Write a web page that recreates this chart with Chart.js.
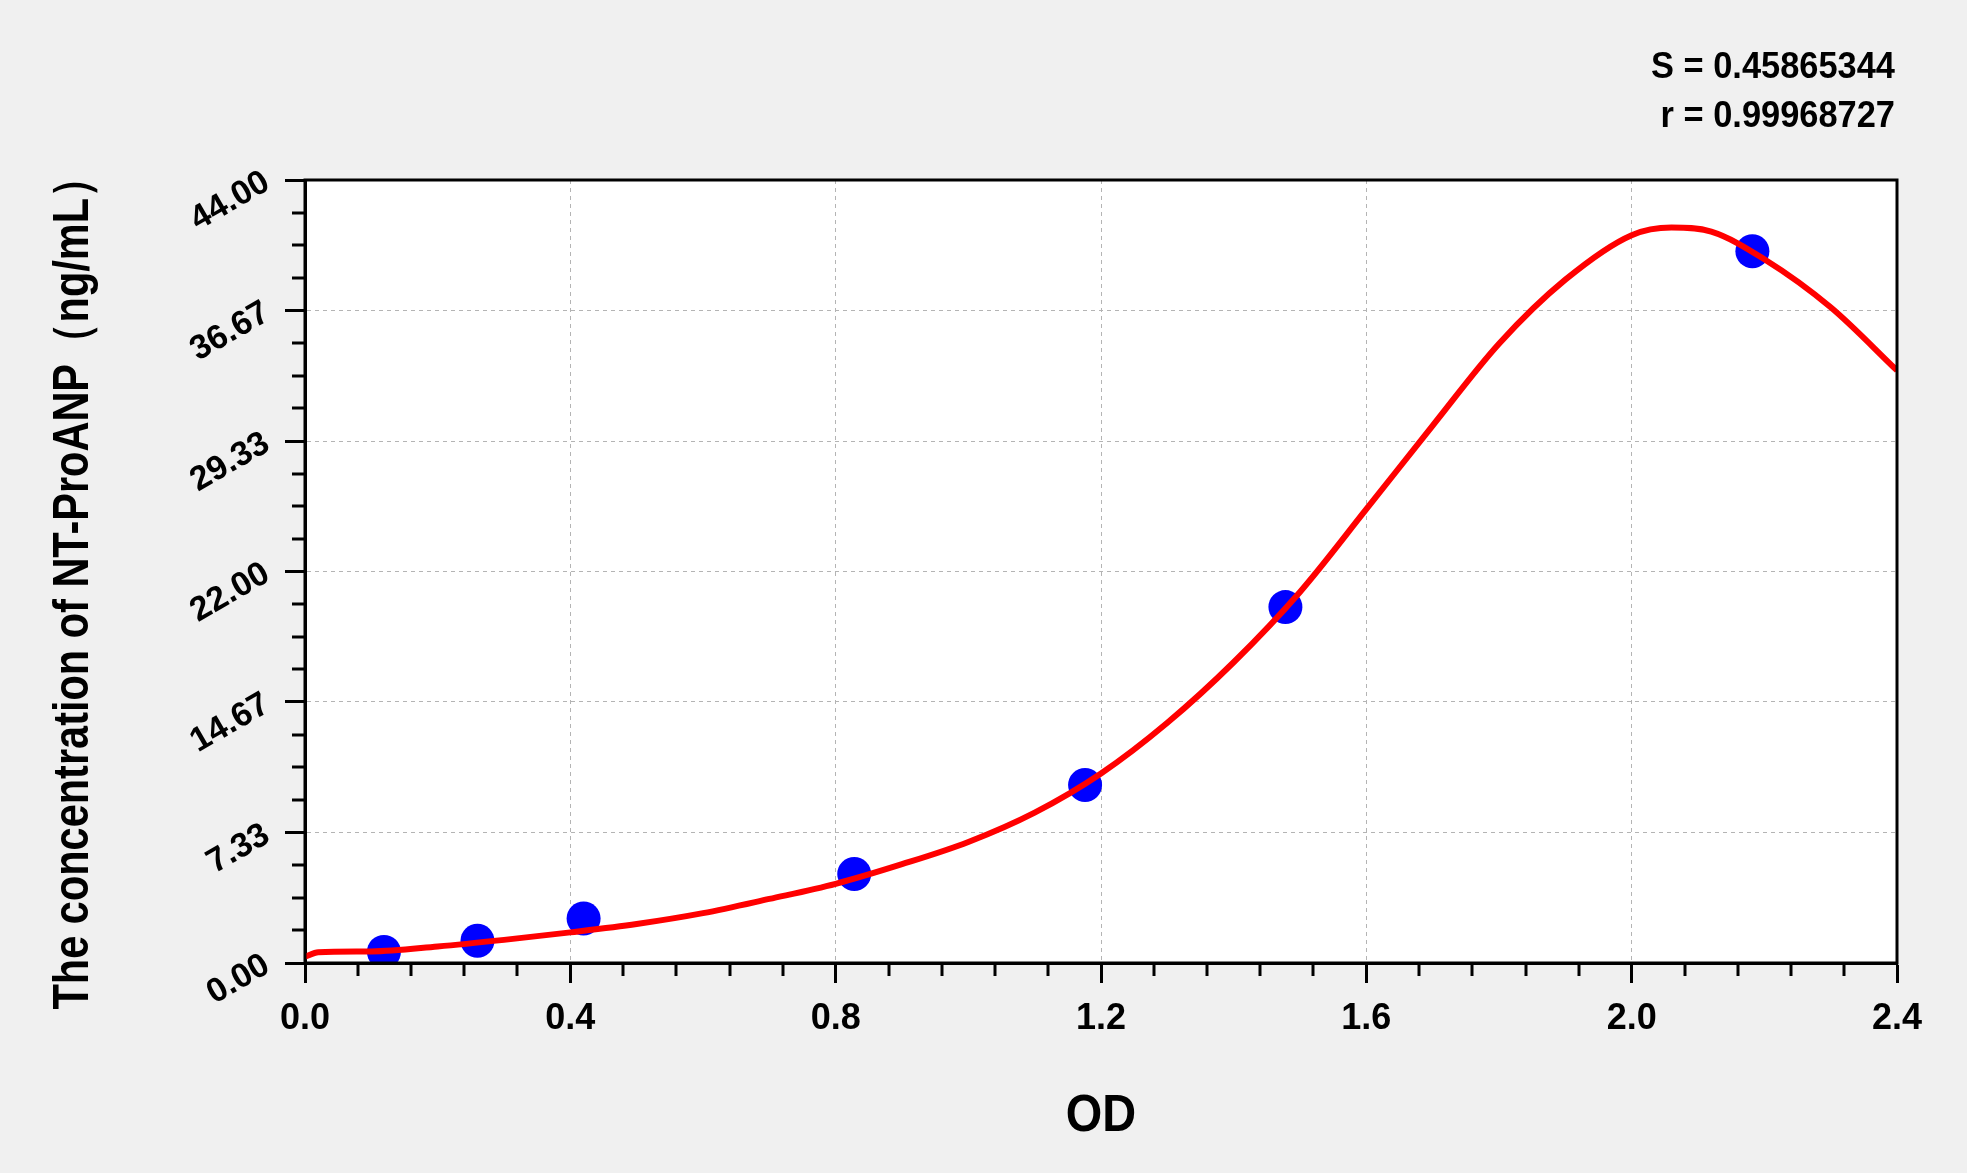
<!DOCTYPE html>
<html lang="en">
<head>
<meta charset="UTF-8" />
<title>NT-ProANP standard curve</title>
<script src="https://cdn.jsdelivr.net/npm/chart.js"></script>
<style>
  html, body { margin: 0; padding: 0; background: #f0f0f0; }
  canvas { display: block; }
</style>
</head>
<body>
<canvas id="curve" width="1967" height="1173"></canvas>
<script>
// standards: OD vs concentration
const stdOD = [0.119, 0.260, 0.420, 0.828, 1.176, 1.478, 2.182];
const stdConc = [0.625, 1.25, 2.5, 5, 10, 20, 40];

// fitted curve
const fitOD = [0, 0.02, 0.1, 0.2, 0.3, 0.4, 0.5, 0.6, 0.7, 0.8, 0.9, 1.0, 1.1, 1.2, 1.3,
  1.4, 1.5, 1.6, 1.7, 1.8, 1.9, 2.0, 2.06, 2.12, 2.2, 2.3, 2.4];
const fitConc = [0.35, 0.6, 0.65, 0.93, 1.3, 1.72, 2.19, 2.8, 3.6, 4.45, 5.55, 6.8, 8.45, 10.65, 13.5,
  16.9, 20.85, 25.5, 30.2, 34.8, 38.4, 40.9, 41.33, 41.1, 39.55, 36.85, 33.3];

const xTicks = [0, 0.4, 0.8, 1.2, 1.6, 2.0, 2.4];
const xLabels = ['0.0', '0.4', '0.8', '1.2', '1.6', '2.0', '2.4'];
const yTicks = [0, 7.33, 14.67, 22.0, 29.33, 36.67, 44.0];
const yLabels = ['0.00', '7.33', '14.67', '22.00', '29.33', '36.67', '44.00'];

const statS = 'S = 0.45865344';
const statR = 'r = 0.99968727';
const xTitle = 'OD';
const yTitle = 'The concentration of NT-ProANP\uFF08ng/mL\uFF09';

const FONT = "'Liberation Sans', Arial, sans-serif";

function squeezeText(ctx, text, x, y, rot, sx, align) {
  ctx.save();
  ctx.translate(x, y);
  ctx.rotate(rot);
  ctx.scale(sx, 1);
  ctx.textAlign = align;
  ctx.textBaseline = 'alphabetic';
  ctx.fillText(text, 0, 0);
  ctx.restore();
}

const frame = {
  id: 'frame',
  beforeDraw(chart) {
    const { ctx, chartArea: a } = chart;
    ctx.save();
    ctx.fillStyle = '#f0f0f0';
    ctx.fillRect(0, 0, chart.width, chart.height);
    ctx.fillStyle = '#ffffff';
    ctx.fillRect(a.left, a.top, a.right - a.left, a.bottom - a.top);
    ctx.restore();
  },
  afterDraw(chart) {
    const { ctx, chartArea: a, scales: { x, y } } = chart;
    ctx.save();
    ctx.strokeStyle = '#000';
    ctx.lineWidth = 3;
    ctx.strokeRect(a.left, a.top, a.right - a.left, a.bottom - a.top);

    // minor ticks: 5 parts on x, 4 parts on y
    ctx.beginPath();
    for (let i = 0; i < xTicks.length - 1; i++) {
      const step = (xTicks[i + 1] - xTicks[i]) / 5;
      for (let k = 1; k < 5; k++) {
        const px = Math.round(x.getPixelForValue(xTicks[i] + k * step));
        ctx.moveTo(px, a.bottom);
        ctx.lineTo(px, a.bottom + 13);
      }
    }
    for (let i = 0; i < yTicks.length - 1; i++) {
      const step = (yTicks[i + 1] - yTicks[i]) / 4;
      for (let k = 1; k < 4; k++) {
        const py = Math.round(y.getPixelForValue(yTicks[i] + k * step));
        ctx.moveTo(a.left, py);
        ctx.lineTo(a.left - 13, py);
      }
    }
    ctx.stroke();

    // texts
    ctx.fillStyle = '#000';
    ctx.font = 'bold 37px ' + FONT;
    squeezeText(ctx, statS, 1895, 78, 0, 0.93, 'right');
    squeezeText(ctx, statR, 1895, 127, 0, 0.93, 'right');

    ctx.font = 'bold 51px ' + FONT;
    squeezeText(ctx, xTitle, (a.left + a.right) / 2, 1131, 0, 0.92, 'center');

    ctx.font = 'bold 50px ' + FONT;
    const w = ctx.measureText(yTitle).width;
    squeezeText(ctx, yTitle, 88, 583, -Math.PI / 2, 853 / w, 'center');
    ctx.restore();
  }
};

new Chart(document.getElementById('curve'), {
  type: 'scatter',
  data: {
    datasets: [
      {
        label: 'fit',
        data: fitOD.map((v, i) => ({ x: v, y: fitConc[i] })),
        showLine: true,
        borderColor: '#ff0000',
        borderWidth: 6,
        pointRadius: 0,
        cubicInterpolationMode: 'monotone',
        order: 0
      },
      {
        label: 'standards',
        data: stdOD.map((v, i) => ({ x: v, y: stdConc[i] })),
        showLine: false,
        pointRadius: 17,
        pointBackgroundColor: '#0000ff',
        pointBorderWidth: 0,
        order: 1
      }
    ]
  },
  options: {
    responsive: false,
    devicePixelRatio: 1,
    animation: false,
    layout: { padding: { top: 180, right: 70, left: 0, bottom: 0 } },
    plugins: {
      legend: { display: false },
      tooltip: { enabled: false }
    },
    scales: {
      x: {
        type: 'linear',
        min: 0,
        max: 2.4,
        afterBuildTicks: s => { s.ticks = xTicks.map(v => ({ value: v })); },
        afterFit: s => { s.height = 210; },
        ticks: {
          autoSkip: false,
          maxRotation: 0,
          padding: 14,
          color: '#000',
          font: { family: FONT, size: 36, weight: 'bold' },
          callback: (v, i) => xLabels[i]
        },
        grid: { color: '#b4b4b4', lineWidth: 1, tickColor: '#000', tickLength: 20, tickWidth: 3 },
        border: { display: true, color: '#000', width: 3, dash: [4, 4] }
      },
      y: {
        type: 'linear',
        min: 0,
        max: 44,
        afterBuildTicks: s => { s.ticks = yTicks.map(v => ({ value: v })); },
        afterFit: s => { s.width = 305; },
        ticks: {
          autoSkip: false,
          minRotation: 30,
          maxRotation: 30,
          padding: 18,
          color: '#000',
          font: { family: FONT, size: 34, weight: 'bold' },
          callback: (v, i) => yLabels[i]
        },
        grid: { color: '#b4b4b4', lineWidth: 1, tickColor: '#000', tickLength: 20, tickWidth: 3 },
        border: { display: true, color: '#000', width: 3, dash: [4, 4] }
      }
    }
  },
  plugins: [frame]
});
</script>
</body>
</html>
